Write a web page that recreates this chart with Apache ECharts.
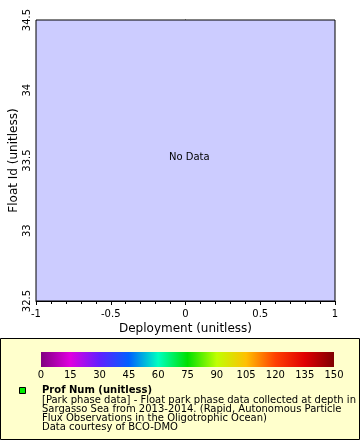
<!DOCTYPE html>
<html>
<head>
<meta charset="utf-8">
<style>html,body{margin:0;padding:0;background:#fff;}#c{width:360px;height:440px;}</style>
<script src="https://cdn.jsdelivr.net/npm/echarts@6/dist/echarts.min.js"></script>
</head>
<body>
<div id="c"></div>
<script>
// Data (the reference shows "No Data")
var deployment = [];
var floatId = [];
var profNum = [];
var xRange = [-1, 1];
var yRange = [32.5, 34.5];
var colorbarTicks = [0, 15, 30, 45, 60, 75, 90, 105, 120, 135, 150];
var colorbarColors = ['#800080', '#e000e0', '#6020ff', '#0060ff', '#00ffc0', '#00e000', '#c0ff00', '#ffc000', '#ff4000', '#e00000', '#800000'];
var legendTitle = 'Prof Num (unitless)';
var legendLines = [
  '[Park phase data] - Float park phase data collected at depth in the',
  'Sargasso Sea from 2013-2014. (Rapid, Autonomous Particle',
  'Flux Observations in the Oligotrophic Ocean)',
  'Data courtesy of BCO-DMO'
];

var F = 'DejaVu Sans';
var chart = echarts.init(document.getElementById('c'), null, {renderer: 'canvas'});
var pts = deployment.map(function (d, i) { return [d, floatId[i], profNum[i]]; });
var stops = colorbarColors.map(function (c, i) { return {offset: i / (colorbarColors.length - 1), color: c}; });

chart.setOption({
  animation: false,
  textStyle: {fontFamily: F},
  grid: [
    {left: 36, right: 25, top: 20, height: 281, show: true, backgroundColor: '#ccccff', borderColor: '#000', borderWidth: 1, z: 3, containLabel: false, outerBoundsMode: 'none'},
    {left: 41, right: 26, top: 352, height: 15, show: false, containLabel: false, outerBoundsMode: 'none'}
  ],
  xAxis: [
    {gridIndex: 0, type: 'value', min: xRange[0], max: xRange[1], interval: 0.5,
     name: 'Deployment (unitless)', nameLocation: 'middle', nameGap: 22, nameMoveOverlap: false,
     nameTextStyle: {fontFamily: F, fontSize: 12, color: '#000'},
     axisLine: {show: true, lineStyle: {color: '#000'}},
     axisTick: {show: true, length: 4, lineStyle: {color: '#000'}},
     minorTick: {show: true, splitNumber: 5, length: 3, lineStyle: {color: '#000'}},
     splitLine: {show: false},
     axisLabel: {fontFamily: F, fontSize: 10, color: '#000', margin: 8}},
    {gridIndex: 1, type: 'value', min: 0, max: 150, interval: 15,
     axisLine: {show: false}, axisTick: {show: false}, splitLine: {show: false},
     axisLabel: {fontFamily: F, fontSize: 10, color: '#000', margin: 3,
       formatter: function (v) { return colorbarTicks.indexOf(v) >= 0 ? String(v) : ''; }}}
  ],
  yAxis: [
    {gridIndex: 0, type: 'value', min: yRange[0], max: yRange[1], interval: 0.5,
     name: 'Float Id (unitless)', nameLocation: 'middle', nameGap: 16, nameRotate: 90, nameMoveOverlap: false,
     nameTextStyle: {fontFamily: F, fontSize: 12, color: '#000'},
     axisLine: {show: true, lineStyle: {color: '#000'}},
     axisTick: {show: true, length: 4, lineStyle: {color: '#000'}},
     minorTick: {show: true, splitNumber: 5, length: 3, lineStyle: {color: '#000'}},
     splitLine: {show: false},
     axisLabel: {fontFamily: F, fontSize: 10, color: '#000', rotate: 90, margin: 4}},
    {gridIndex: 1, type: 'value', show: false, min: 0, max: 1}
  ],
  series: [
    {type: 'scatter', xAxisIndex: 0, yAxisIndex: 0, data: pts, symbolSize: 5}
  ],
  graphic: [
    {type: 'rect', z: 0, shape: {x: 0.5, y: 338.5, width: 359, height: 101},
     style: {fill: '#ffffcc', stroke: '#000', lineWidth: 1}},
    {type: 'rect', z: 1, shape: {x: 41, y: 352, width: 293, height: 15},
     style: {fill: new echarts.graphic.LinearGradient(0, 0, 1, 0, stops)}},
    {type: 'rect', z: 1, shape: {x: 19.5, y: 387.5, width: 6, height: 6},
     style: {fill: '#00ee00', stroke: '#000', lineWidth: 1}},
    {type: 'text', z: 5, left: 169, top: 152,
     style: {text: 'No Data', font: '10px "DejaVu Sans"', fill: '#000'}},
    {type: 'text', z: 5, left: 42, top: 385,
     style: {text: legendTitle, font: 'bold 10px "DejaVu Sans"', fill: '#000'}},
    {type: 'text', z: 5, left: 42, top: 395,
     style: {text: legendLines.join('\n'), font: '10px "DejaVu Sans"', fill: '#000', lineHeight: 9.2}}
  ]
});
</script>
</body>
</html>
